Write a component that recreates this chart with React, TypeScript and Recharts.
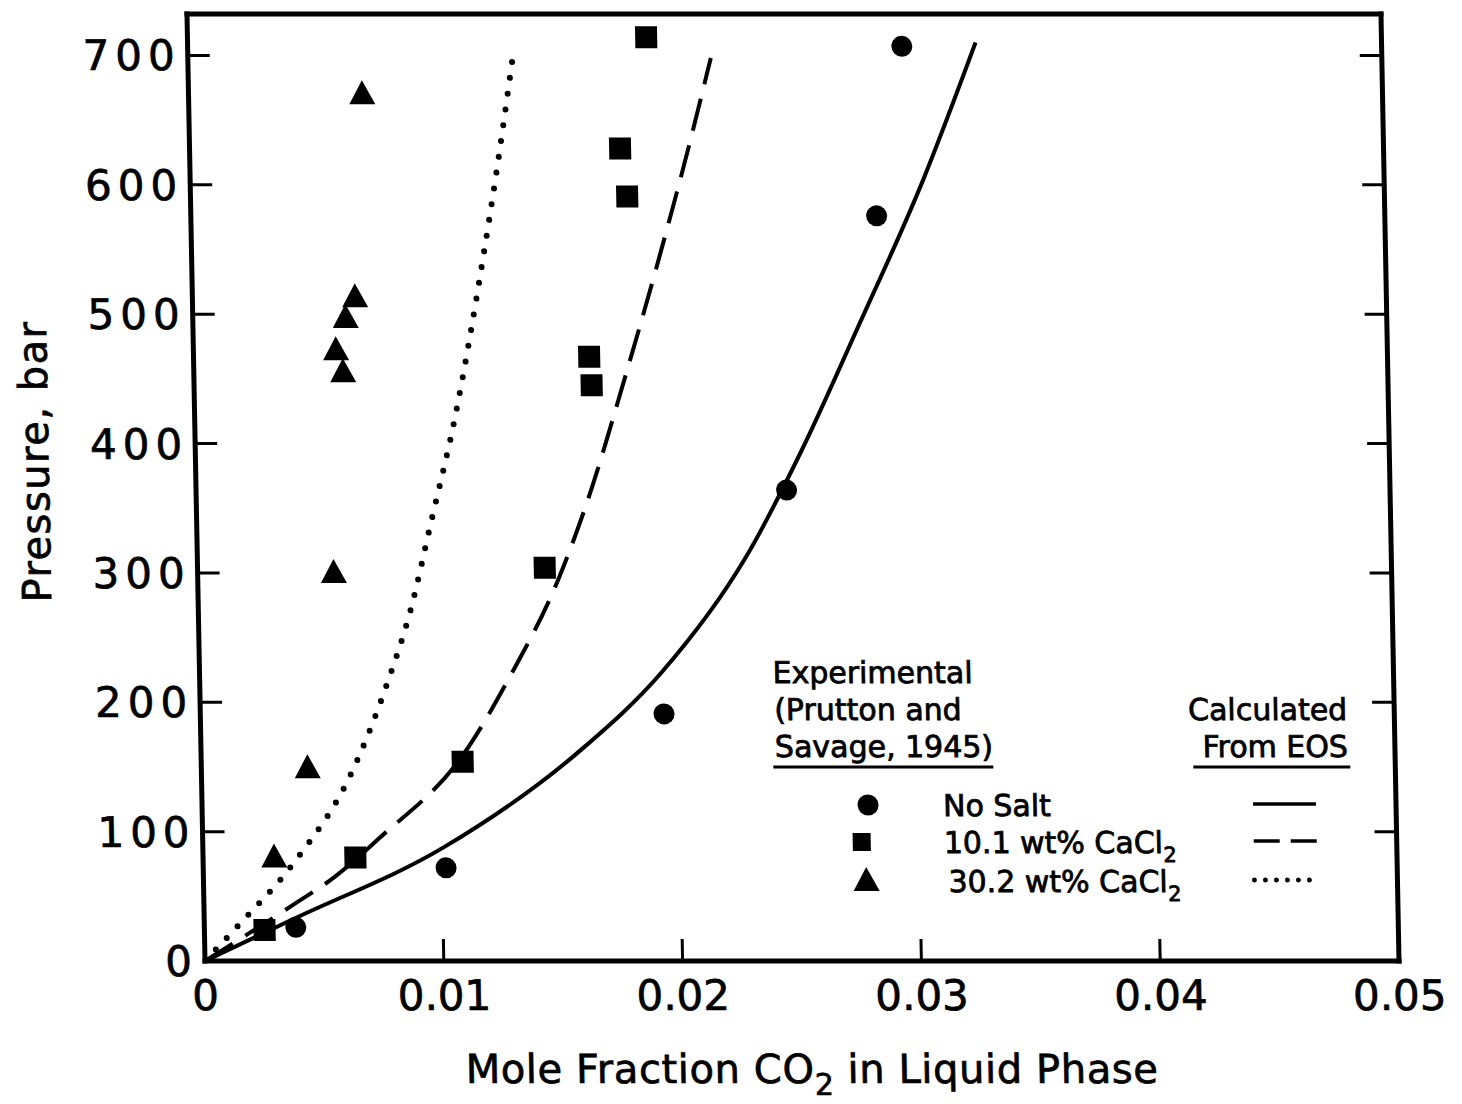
import React from "react";
import { ComposedChart, Line, Scatter, XAxis, YAxis } from "recharts";

// values: x = mole fraction CO2 in liquid, p = pressure (bar)
const xTicks = [0, 0.01, 0.02, 0.03, 0.04, 0.05];
const xTickLabels = ["0", "0.01", "0.02", "0.03", "0.04", "0.05"];
const yTicks = [0, 100, 200, 300, 400, 500, 600, 700];

// experimental (Prutton and Savage, 1945)
const noSaltX = [0.00383, 0.01017, 0.01942, 0.02473, 0.02872, 0.02991];
const noSaltP = [26, 72, 191, 364, 576, 707];
const cacl10X = [0.00252, 0.00638, 0.01095, 0.01454, 0.01657, 0.01665, 0.01803, 0.01829, 0.01921];
const cacl10P = [24, 80, 154, 304, 467, 445, 628, 591, 714];
const cacl30X = [0.00298, 0.00445, 0.0057, 0.00597, 0.00625, 0.0064, 0.00681, 0.00727];
const cacl30P = [80, 149, 300, 472, 455, 497, 513, 670];

// calculated from EOS
const eosNoSaltX = [0, 0.0038, 0.0101, 0.0159, 0.0193, 0.023, 0.0254, 0.0278, 0.0307, 0.033];
const eosNoSaltP = [0, 33, 88, 163, 222, 313, 395, 488, 604, 710];
const eos10X = [0, 0.0037, 0.0055, 0.0074, 0.011, 0.013, 0.0151, 0.0166, 0.0179, 0.0196, 0.0209, 0.0219];
const eos10P = [0, 43, 65, 95, 160, 220, 295, 367, 442, 545, 629, 698];
const eos30X = [0, 0.0014, 0.0038, 0.0063, 0.0078, 0.0089, 0.0098, 0.0109, 0.0122, 0.0128, 0.0136];
const eos30P = [0, 27, 76, 146, 212, 272, 338, 420, 543, 606, 698];

const seriesNames = ["No Salt", "10.1 wt% CaCl", "30.2 wt% CaCl"];
const seriesSubs = ["", "2", "2"];

const W = 1462;
const H = 1104;
const PLOT_L = 205;
const PLOT_R = 1399;
const PLOT_T = 14;
const PLOT_B = 961;
const SKEW_DEG = 1.09; // the scanned frame leans a little
const INK = "#000";
const FONT = "'DejaVu Sans', sans-serif";
const TICK = 22;

const pts = (xs: number[], ps: number[]) => xs.map((x, i) => ({ x, p: ps[i] }));

const frame = { stroke: INK, strokeWidth: 5, strokeLinecap: "square" as const };
const heavy = { stroke: INK, strokeWidth: 0.7 };

function BottomTick(props: any) {
  const { x, y, payload } = props;
  const i = xTicks.indexOf(payload.value);
  const inner = i > 0 && i < xTicks.length - 1;
  return (
    <g>
      {inner && <line x1={x} x2={x} y1={y} y2={y - TICK} stroke={INK} strokeWidth={3} />}
      <text x={x} y={y + 49} textAnchor="middle" fontFamily={FONT} fontSize={42} fill={INK} {...heavy}>
        {xTickLabels[i]}
      </text>
    </g>
  );
}

function TopTick(props: any) {
  const { x, y, payload } = props;
  const i = xTicks.indexOf(payload.value);
  if (i <= 0 || i >= xTicks.length - 1) return <g />;
  return <line x1={x} x2={x} y1={y} y2={y + TICK} stroke={INK} strokeWidth={3} />;
}

function LeftTick(props: any) {
  const { x, y, payload } = props;
  const v: number = payload.value;
  return (
    <g>
      {v > 0 && <line x1={x} x2={x + TICK} y1={y} y2={y} stroke={INK} strokeWidth={3} />}
      <text x={x - 7} y={y + 15} textAnchor="end" fontFamily={FONT} fontSize={42} letterSpacing={6} fill={INK} {...heavy}>
        {String(v)}
      </text>
    </g>
  );
}

function RightTick(props: any) {
  const { x, y, payload } = props;
  if (payload.value <= 0) return <g />;
  return <line x1={x} x2={x - TICK} y1={y} y2={y} stroke={INK} strokeWidth={3} />;
}

const DotMark = (p: any) => <circle cx={p.cx} cy={p.cy} r={10.5} fill={INK} />;
const BoxMark = (p: any) => <rect x={p.cx - 11} y={p.cy - 11} width={22} height={22} fill={INK} />;
const TriMark = (p: any) => (
  <polygon points={`${p.cx},${p.cy - 14} ${p.cx + 13},${p.cy + 10} ${p.cx - 13},${p.cy + 10}`} fill={INK} />
);

function Overlay() {
  const bold = { fontFamily: FONT, fontSize: 30, fill: INK, stroke: INK, strokeWidth: 0.8 };
  const rowY = [805, 842, 881];
  const lineDash = ["", "26 11", "0 11"];
  return (
    <svg width={W} height={H} style={{ position: "absolute", left: 0, top: 0, pointerEvents: "none" }}>
      {/* axis titles */}
      <text
        x={(PLOT_L + PLOT_R) / 2 + 8}
        y={PLOT_B + 122}
        textAnchor="middle"
        fontFamily={FONT}
        fontSize={40}
        letterSpacing={0.6}
        fill={INK}
        {...heavy}
      >
        Mole Fraction CO
        <tspan fontSize={30} dy={12}>2</tspan>
        <tspan dy={-12}> in Liquid Phase</tspan>
      </text>
      <text
        transform={`translate(58, ${(PLOT_T + PLOT_B) / 2 - 26}) rotate(-90)`}
        textAnchor="middle"
        fontFamily={FONT}
        fontSize={40}
        letterSpacing={1.5}
        fill={INK}
        {...heavy}
      >
        Pressure, bar
      </text>

      {/* legend */}
      <text x={778} y={683} {...bold}>Experimental</text>
      <text x={779} y={720} {...bold}>(Prutton and</text>
      <text x={779} y={757} {...bold}>Savage, 1945)</text>
      <line x1={777} x2={997} y1={767} y2={767} stroke={INK} strokeWidth={3} />
      <text x={1352} y={720} textAnchor="end" {...bold}>Calculated</text>
      <text x={1352} y={757} textAnchor="end" {...bold}>From EOS</text>
      <line x1={1197} x2={1354} y1={767} y2={767} stroke={INK} strokeWidth={3} />

      {seriesNames.map((name, i) => {
        const cy = rowY[i];
        const cx = [871, 864, 868][i];
        return (
          <g key={name}>
            {i === 0 && <DotMark cx={cx} cy={cy} />}
            {i === 1 && <rect x={cx - 9} y={cy - 9} width={18} height={18} fill={INK} />}
            {i === 2 && <TriMark cx={cx} cy={cy} />}
            <text x={i === 2 ? 950 : 946} y={cy + 11} {...bold}>
              {name}
              {seriesSubs[i] && (
                <tspan fontSize={21} dy={9}>
                  {seriesSubs[i]}
                </tspan>
              )}
            </text>
            <line
              x1={1256}
              x2={1319}
              y1={cy - 1}
              y2={cy - 1}
              stroke={INK}
              strokeWidth={i === 2 ? 5 : 3.5}
              strokeLinecap={i === 2 ? "round" : "butt"}
              strokeDasharray={lineDash[i] || undefined}
            />
          </g>
        );
      })}
    </svg>
  );
}

export default function App() {
  const noSalt = pts(noSaltX, noSaltP);
  const cacl10 = pts(cacl10X, cacl10P);
  const cacl30 = pts(cacl30X, cacl30P);
  const eosNoSalt = pts(eosNoSaltX, eosNoSaltP);
  const eos10 = pts(eos10X, eos10P);
  const eos30 = pts(eos30X, eos30P);

  return (
    <div
      style={{
        position: "absolute",
        left: 0,
        top: 0,
        width: W,
        height: H,
        background: "#fff",
        transform: `skewX(${SKEW_DEG}deg)`,
        transformOrigin: `0px ${PLOT_B}px`,
      }}
    >
      <ComposedChart
        width={W}
        height={H}
        margin={{ top: PLOT_T - 2, right: W - PLOT_R - 3, bottom: H - PLOT_B - 60, left: PLOT_L - 120 }}
      >
        <XAxis
          xAxisId="b"
          type="number"
          dataKey="x"
          domain={[0, 0.05]}
          ticks={xTicks}
          interval={0}
          height={60}
          tickSize={0}
          tickMargin={0}
          tickLine={false}
          axisLine={frame}
          tick={<BottomTick />}
          allowDataOverflow
        />
        <XAxis
          xAxisId="t"
          orientation="top"
          type="number"
          domain={[0, 0.05]}
          ticks={xTicks}
          interval={0}
          height={2}
          tickSize={0}
          tickMargin={0}
          tickLine={false}
          axisLine={frame}
          tick={<TopTick />}
          allowDataOverflow
        />
        <YAxis
          yAxisId="l"
          type="number"
          dataKey="p"
          domain={[0, 732]}
          ticks={yTicks}
          interval={0}
          width={120}
          tickSize={0}
          tickMargin={0}
          tickLine={false}
          axisLine={frame}
          tick={<LeftTick />}
          allowDataOverflow
        />
        <YAxis
          yAxisId="r"
          orientation="right"
          type="number"
          domain={[0, 732]}
          ticks={yTicks}
          interval={0}
          width={3}
          tickSize={0}
          tickMargin={0}
          tickLine={false}
          axisLine={frame}
          tick={<RightTick />}
          allowDataOverflow
        />

        <Line xAxisId="b" yAxisId="l" data={eosNoSalt} dataKey="p" type="monotone" stroke={INK} strokeWidth={4} dot={false} activeDot={false} isAnimationActive={false} />
        <Line xAxisId="b" yAxisId="l" data={eos10} dataKey="p" type="monotone" stroke={INK} strokeWidth={4} strokeDasharray="33 15" dot={false} activeDot={false} isAnimationActive={false} />
        <Line xAxisId="b" yAxisId="l" data={eos30} dataKey="p" type="monotone" stroke={INK} strokeWidth={6} strokeLinecap="round" strokeDasharray="0 16" dot={false} activeDot={false} isAnimationActive={false} />

        <Scatter xAxisId="b" yAxisId="l" name={seriesNames[0]} data={noSalt} dataKey="p" shape={DotMark} isAnimationActive={false} />
        <Scatter xAxisId="b" yAxisId="l" name={seriesNames[1]} data={cacl10} dataKey="p" shape={BoxMark} isAnimationActive={false} />
        <Scatter xAxisId="b" yAxisId="l" name={seriesNames[2]} data={cacl30} dataKey="p" shape={TriMark} isAnimationActive={false} />
      </ComposedChart>
      <Overlay />
    </div>
  );
}
